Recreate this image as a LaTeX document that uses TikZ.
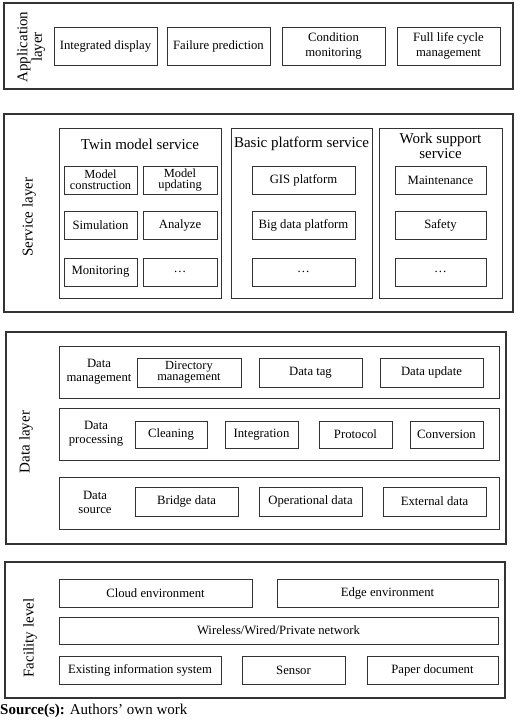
\documentclass[tikz,border=0pt]{standalone}
\usepackage{fontspec}
\setmainfont{Liberation Serif}
\definecolor{linec}{HTML}{333333}
\tikzset{
 box/.style={draw=linec, line width=1pt, inner sep=0pt, outer sep=0pt, align=center, font=\fontsize{12.7}{15}\selectfont},
 tight/.style={box, font=\fontsize{12.4}{11}\selectfont},
 frame/.style={draw=linec, line width=1.2pt, inner sep=0pt, outer sep=0pt},
 grp/.style={draw=linec, line width=1pt, inner sep=0pt, outer sep=0pt},
 ttl/.style={font=\fontsize{15}{15}\selectfont, align=center, inner sep=0pt},
 lbl/.style={font=\fontsize{12.7}{14}\selectfont, align=center, inner sep=0pt},
}
\newcommand\bx[7][box]{\node[#1, minimum width={#5-#3}, minimum height={#6-#4}] (#2) at ({(#3+#5)/2},{(#4+#6)/2}) {#7};}
\begin{document}
\begin{tikzpicture}[x=1pt,y=-1pt]
\useasboundingbox (0,0) rectangle (520,726);
% Application layer
\bx[frame]{app}{4}{3}{513}{89}{}
\node[ttl, rotate=90, font=\fontsize{15}{13.5}\selectfont] (appl) at (31,47) {Application\\layer};
\bx{a1}{54}{27}{157}{65}{Integrated display}
\bx{a2}{167}{27}{270}{65}{Failure prediction}
\bx{a3}{282}{27}{385}{65}{Condition\\monitoring}
\bx{a4}{397}{27}{500}{65}{Full life cycle\\management}
% Service layer
\bx[frame]{srv}{4}{114}{513}{312}{}
\node[ttl, rotate=90] (srvl) at (29,217) {Service layer};
\bx[grp]{twin}{59}{128}{221}{298}{}
\bx[grp]{basic}{231}{128}{372}{298}{}
\bx[grp]{work}{379}{128}{502}{298}{}
\node[ttl] (twint) at (140,144) {Twin model service};
\node[ttl] (basict) at (301.5,144) {Basic platform service};
\node[ttl] (workt) at (440.5,146) {Work support\\service};
\bx[tight]{t1}{64}{166}{137}{194}{Model\\construction}
\bx[tight]{t2}{143}{166}{217}{194}{Model\\updating}
\bx{t3}{64}{211}{137}{239}{Simulation}
\bx{t4}{143}{211}{217}{239}{Analyze}
\bx{t5}{64}{258}{137}{286}{Monitoring}
\bx{t6}{143}{258}{217}{286}{\dots}
\bx{b1}{252}{166}{355}{194}{GIS platform}
\bx{b2}{252}{211}{355}{239}{Big data platform}
\bx{b3}{252}{258}{355}{286}{\dots}
\bx{w1}{395}{166}{486}{194}{Maintenance}
\bx{w2}{395}{211}{486}{239}{Safety}
\bx{w3}{395}{258}{486}{286}{\dots}
% Data layer
\bx[frame]{dat}{6}{332}{506}{544}{}
\node[ttl, rotate=90] (datl) at (26,442) {Data layer};
\bx[grp]{dm}{59}{346}{499}{398}{}
\bx[grp]{dp}{59}{408}{499}{460}{}
\bx[grp]{ds}{59}{477}{499}{529}{}
\node[lbl] (dml) at (99,372) {Data\\management};
\node[lbl] (dpl) at (96,434) {Data\\processing};
\node[lbl] (dsl) at (95,502) {Data\\source};
\bx[tight]{m1}{137}{358}{241}{387}{Directory\\management}
\bx{m2}{259}{358}{362}{387}{Data tag}
\bx{m3}{380}{358}{483}{387}{Data update}
\bx{p1}{135}{421}{207}{448}{Cleaning}
\bx{p2}{225}{421}{298}{448}{Integration}
\bx{p3}{319}{421}{392}{448}{Protocol}
\bx{p4}{410}{421}{483}{448}{Conversion}
\bx{s1}{135}{487}{238}{516}{Bridge data}
\bx{s2}{259}{487}{362}{516}{Operational data}
\bx{s3}{383}{487}{486}{516}{External data}
% Facility level
\bx[frame]{fac}{5}{562}{505}{698}{}
\node[ttl, rotate=90] (facl) at (30,638) {Facility level};
\bx{f1}{59}{579}{252}{607}{Cloud environment}
\bx{f2}{277}{579}{498}{607}{Edge environment}
\bx{f3}{59}{617}{498}{644}{Wireless/Wired/Private network}
\bx{f4}{59}{656}{221}{684}{Existing information system}
\bx{f5}{242}{656}{345}{684}{Sensor}
\bx{f6}{367}{656}{498}{684}{Paper document}
% Source
\node[anchor=base west, inner sep=0pt, font=\fontsize{15}{15}\selectfont] (src) at (0,714) {\textbf{Source(s):} Authors’ own work};
\end{tikzpicture}
\end{document}
